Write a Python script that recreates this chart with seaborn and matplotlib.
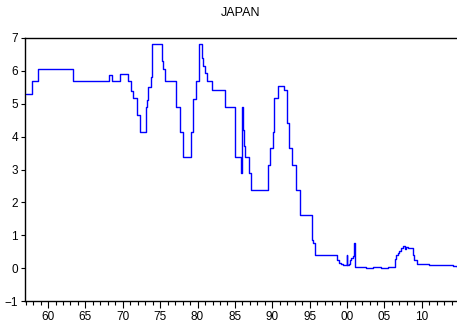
import numpy as np
import pandas as pd
import seaborn as sns
import matplotlib
matplotlib.use('Agg')
import matplotlib.pyplot as plt
from matplotlib.ticker import MultipleLocator, FuncFormatter

# change points of the series (decimal year, level)
dates = [1957.0, 1957.82, 1958.62, 1963.3, 1968.2, 1968.5, 1969.64, 1970.75,
         1971.07, 1971.42, 1971.87, 1972.32, 1973.07, 1973.2, 1973.43, 1973.75,
         1973.97, 1975.2, 1975.42, 1975.66, 1977.1, 1977.67, 1978.1, 1979.14,
         1979.4, 1979.8, 1980.25, 1980.62, 1980.75, 1980.95, 1981.3, 1981.9,
         1983.65, 1985.07, 1985.8, 1985.98, 1986.05, 1986.15, 1986.33, 1986.87,
         1987.18, 1989.41, 1989.72, 1990.03, 1990.25, 1990.7, 1991.5, 1991.95,
         1992.17, 1992.62, 1993.2, 1993.64, 1995.3, 1995.5, 1995.7, 1998.7,
         1998.9, 1999.2, 1999.5, 1999.95, 2000.05, 2000.2, 2000.35, 2000.55,
         2000.75, 2000.95, 2001.1, 2001.3, 2002.5, 2003.5, 2004.5, 2005.5,
         2006.36, 2006.55, 2006.75, 2007.0, 2007.25, 2007.43, 2007.7, 2007.9,
         2008.2, 2008.6, 2008.85, 2009.0, 2009.36, 2010.0, 2011.0, 2012.0,
         2013.0, 2013.4, 2013.6, 2014.2, 2014.7]
values = [5.31, 5.69, 6.07, 5.68, 5.88, 5.68, 5.92, 5.68,
          5.40, 5.16, 4.65, 4.13, 4.90, 5.10, 5.50, 5.80,
          6.82, 6.30, 6.05, 5.68, 4.90, 4.13, 3.38, 4.13,
          5.15, 5.68, 6.82, 6.40, 6.15, 5.93, 5.68, 5.42,
          4.90, 3.38, 2.88, 4.90, 4.20, 3.70, 3.38, 2.88,
          2.37, 3.13, 3.64, 4.14, 5.16, 5.54, 5.41, 4.40,
          3.64, 3.13, 2.37, 1.63, 0.87, 0.75, 0.40, 0.25,
          0.16, 0.12, 0.09, 0.40, 0.10, 0.12, 0.24, 0.30,
          0.36, 0.75, 0.04, 0.02, 0.01, 0.02, 0.01, 0.02,
          0.29, 0.40, 0.47, 0.52, 0.60, 0.68, 0.58, 0.63,
          0.60, 0.62, 0.40, 0.24, 0.14, 0.12, 0.11, 0.11,
          0.10, 0.08, 0.10, 0.06, 0.04]

df = pd.DataFrame({'date': dates, 'rate': values})

sns.set_style('ticks')
plt.rcParams['font.family'] = ['Liberation Sans', 'DejaVu Sans']
plt.rcParams['text.color'] = 'black'
plt.rcParams['xtick.color'] = 'black'
plt.rcParams['ytick.color'] = 'black'

fig = plt.figure(figsize=(4.57, 3.24), dpi=100)
ax = fig.add_axes([25/457, 23/324, 432/457, 263/324])
sns.lineplot(data=df, x='date', y='rate', ax=ax, color='#0000ff', lw=1.0,
             drawstyle='steps-post')

ax.set_xlim(1956.92, 2014.7)
ax.set_ylim(-1, 7)
ax.set_yticks(range(-1, 8))
ax.xaxis.set_major_locator(MultipleLocator(5))
ax.xaxis.set_minor_locator(MultipleLocator(1))
ax.xaxis.set_major_formatter(FuncFormatter(lambda v, p: '%02d' % (int(round(v)) % 100)))
ax.tick_params(axis='x', which='major', length=5, width=0.8, labelsize=8.5, pad=2,
               direction='out', colors='black')
ax.tick_params(axis='x', which='minor', length=3, width=0.8, direction='out', colors='black')
ax.tick_params(axis='y', length=3, width=0.8, labelsize=8.5, pad=2, direction='out',
               colors='black')
ax.set_xlabel('')
ax.set_ylabel('')
ax.spines['right'].set_visible(False)
for s in ['left', 'bottom', 'top']:
    ax.spines[s].set_linewidth(1.0)
    ax.spines[s].set_color('black')
ax.set_title('JAPAN', fontsize=9, pad=16, color='black')

plt.savefig('out.png', dpi=100)
